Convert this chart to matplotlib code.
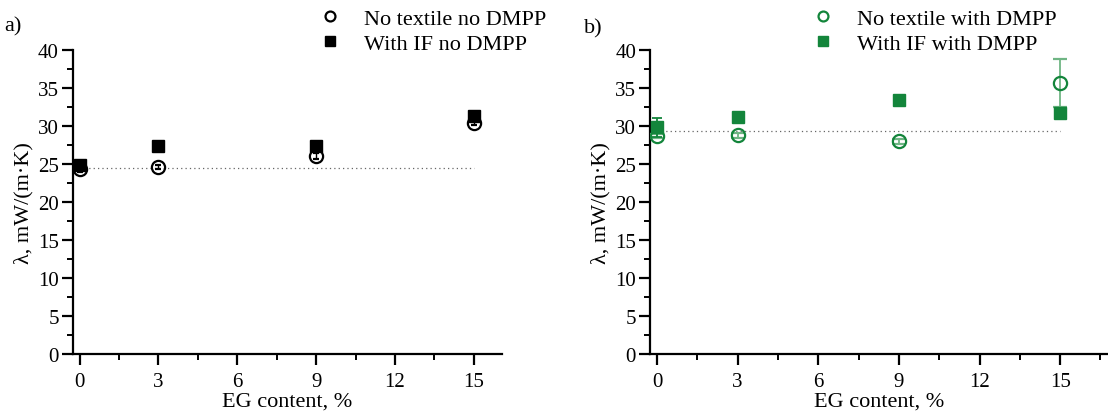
import numpy as np
import matplotlib.pyplot as plt
from matplotlib.ticker import MultipleLocator

plt.rcParams['font.family'] = ['Liberation Serif', 'DejaVu Serif']

# EG content, %
eg = [0, 3, 9, 15]

# thermal conductivity, mW/(m K)
no_tex_no_dmpp = [24.3, 24.6, 26.1, 30.4]
no_tex_no_dmpp_err = [0.3, 0.3, 0.4, 0.3]
if_no_dmpp = [24.8, 27.4, 27.4, 31.3]
if_no_dmpp_err = [0.2, 0.2, 0.3, 0.2]
ref_no_dmpp = 24.5

no_tex_dmpp = [28.7, 28.75, 27.97, 35.66]
no_tex_dmpp_err = [0.3, 0.3, 0.3, 3.2]
if_dmpp = [29.8, 31.2, 33.4, 31.75]
if_dmpp_err = [1.25, 0.2, 0.2, 0.2]
ref_dmpp = 29.3

green = '#13853b'

fig = plt.figure(figsize=(11.08, 4.14), dpi=100)
ax1 = fig.add_axes([0.0656, 0.1425, 0.3875, 0.7345])
ax2 = fig.add_axes([0.5866, 0.1425, 0.4134, 0.7345])


def style(ax, xmax):
    ax.set_xlim(-0.26, xmax)
    ax.set_ylim(0, 40)
    ax.spines['top'].set_visible(False)
    ax.spines['right'].set_visible(False)
    ax.spines['left'].set_linewidth(1.6)
    ax.spines['bottom'].set_linewidth(1.6)
    ax.xaxis.set_major_locator(MultipleLocator(3))
    ax.xaxis.set_minor_locator(MultipleLocator(1.5))
    ax.yaxis.set_major_locator(MultipleLocator(5))
    ax.yaxis.set_minor_locator(MultipleLocator(2.5))
    ax.tick_params(which='major', direction='out', length=8, width=1.6,
                   labelsize=15)
    ax.tick_params(axis='x', which='major', pad=5)
    ax.tick_params(axis='y', which='major', pad=2)
    ax.tick_params(which='minor', direction='out', length=4.5, width=1.4)
    ax.set_xlabel('EG content, %', fontsize=16, labelpad=0)
    ax.set_ylabel('λ, mW/(m·K)', fontsize=16, labelpad=3)


style(ax1, 16.07)
style(ax2, 16.78)

# a) without DMPP
ax1.plot([eg[0], eg[-1]], [ref_no_dmpp, ref_no_dmpp], ls=(0, (1, 2.5)),
         color='#666666', lw=0.9, zorder=1)
ax1.errorbar(eg, no_tex_no_dmpp, yerr=no_tex_no_dmpp_err, fmt='o', ms=9.5,
             mfc='none', mec='black', mew=1.6, ecolor='black', elinewidth=1,
             capsize=2.5, capthick=1, zorder=3, label='No textile no DMPP')
ax1.errorbar(eg, if_no_dmpp, yerr=if_no_dmpp_err, fmt='s', ms=9,
             mfc='black', mec='black', ecolor='black', elinewidth=1,
             capsize=2.5, capthick=1, zorder=4, label='With IF no DMPP')

# b) with DMPP
ax2.plot([eg[0], eg[-1]], [ref_dmpp, ref_dmpp], ls=(0, (1, 2.5)),
         color='#666666', lw=0.9, zorder=1)
ax2.errorbar(eg, no_tex_dmpp, yerr=no_tex_dmpp_err, fmt='o', ms=9.5,
             mfc='none', mec=green, mew=1.6, ecolor='#6fb584', elinewidth=1.3,
             capsize=5, capthick=1.3, zorder=3, label='No textile with DMPP')
ax2.errorbar(eg, if_dmpp, yerr=if_dmpp_err, fmt='s', ms=9,
             mfc=green, mec=green, ecolor=green, elinewidth=1.3,
             capsize=3.5, capthick=1.3, zorder=4, label='With IF with DMPP')

for ax, x0 in ((ax1, 0.272), (ax2, 0.717)):
    h, l = ax.get_legend_handles_labels()
    h = [hh[0] for hh in h]
    fig.legend(h, l, loc='upper left', bbox_to_anchor=(x0, 1.025),
               frameon=False, fontsize=16, handlelength=0.8,
               handletextpad=1.1, labelspacing=0.2, markerscale=0.75)

fig.text(0.004, 0.935, 'a)', fontsize=16, ha='left', va='center')
fig.text(0.527, 0.93, 'b)', fontsize=16, ha='left', va='center')

fig.savefig('out.png', dpi=100)
